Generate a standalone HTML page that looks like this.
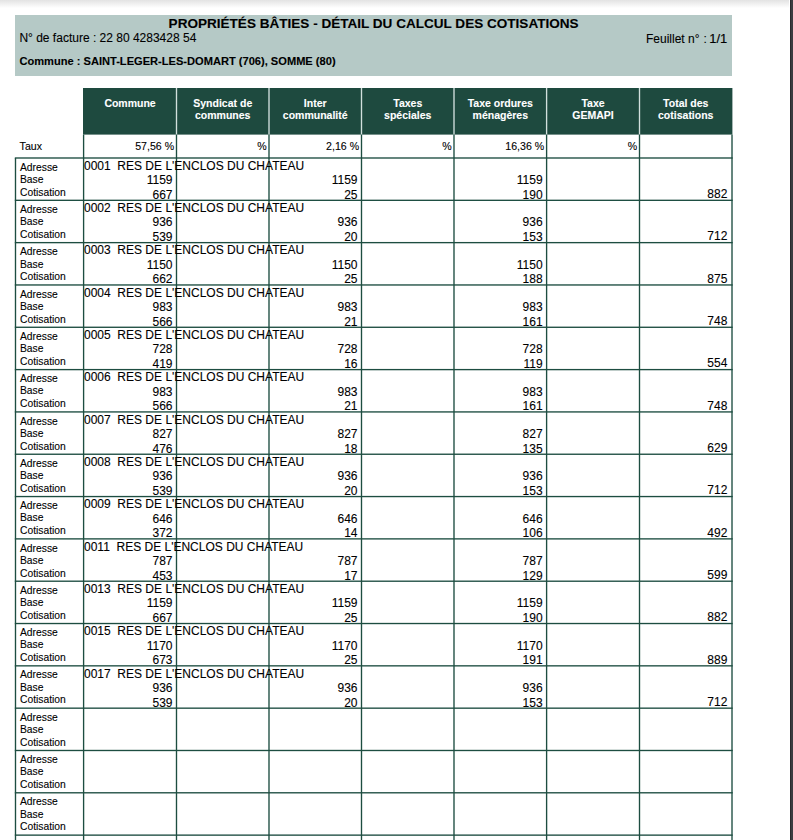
<!DOCTYPE html><html><head><meta charset="utf-8"><style>html,body{margin:0;padding:0;background:#fff;overflow:hidden}svg{display:block}text{font-family:"Liberation Sans",sans-serif;fill:#000;stroke:#000;stroke-width:0.1px}text.w{fill:#fff;stroke:#fff}</style></head><body>
<svg width="793" height="840" viewBox="0 0 793 840">
<defs><linearGradient id="tg" x1="0" y1="0" x2="0" y2="1"><stop offset="0" stop-color="#e3e3e3"/><stop offset="1" stop-color="#ffffff"/></linearGradient></defs>
<rect x="0" y="0" width="793" height="840" fill="#fff"/>
<rect x="0" y="0" width="789" height="8" fill="url(#tg)"/>
<rect x="790" y="0" width="3" height="840" fill="#3b3c40"/>
<rect x="790" y="0" width="1" height="840" fill="#2a2b2e"/>
<rect x="15" y="15" width="717" height="61" fill="#b5c9c6"/>
<text x="373.6" y="27.8" text-anchor="middle" font-weight="bold" font-size="13.55">PROPRIÉTÉS BÂTIES - DÉTAIL DU CALCUL DES COTISATIONS</text>
<text x="19.4" y="41.7" font-size="12">N° de facture : 22 80 4283428 54</text>
<text x="646.0" y="43" font-size="12">Feuillet n°</text><text x="703.4" y="43" font-size="12">:</text><text x="727.3" y="43" text-anchor="end" font-size="13" style="stroke-width:0.15px">1/1</text>
<text x="19.4" y="64.8" font-weight="bold" font-size="11.1">Commune : SAINT-LEGER-LES-DOMART (706), SOMME (80)</text>
<rect x="83.0" y="88.0" width="649.4" height="46.599999999999994" fill="#1e4a3f"/>
<rect x="175.825" y="88.0" width="1.35" height="46.60" fill="#d2e0dd"/>
<rect x="268.325" y="88.0" width="1.35" height="46.60" fill="#d2e0dd"/>
<rect x="360.825" y="88.0" width="1.35" height="46.60" fill="#d2e0dd"/>
<rect x="453.325" y="88.0" width="1.35" height="46.60" fill="#d2e0dd"/>
<rect x="545.925" y="88.0" width="1.35" height="46.60" fill="#d2e0dd"/>
<rect x="638.825" y="88.0" width="1.35" height="46.60" fill="#d2e0dd"/>
<text x="130.05" y="106.80" text-anchor="middle" font-weight="bold" font-size="10.5" class="w">Commune</text>
<text x="222.75" y="106.80" text-anchor="middle" font-weight="bold" font-size="10.5" class="w">Syndicat de</text>
<text x="222.75" y="118.70" text-anchor="middle" font-weight="bold" font-size="10.5" class="w">communes</text>
<text x="315.25" y="106.80" text-anchor="middle" font-weight="bold" font-size="10.5" class="w">Inter</text>
<text x="315.25" y="118.70" text-anchor="middle" font-weight="bold" font-size="10.5" class="w">communalité</text>
<text x="407.75" y="106.80" text-anchor="middle" font-weight="bold" font-size="10.5" class="w">Taxes</text>
<text x="407.75" y="118.70" text-anchor="middle" font-weight="bold" font-size="10.5" class="w">spéciales</text>
<text x="500.30" y="106.80" text-anchor="middle" font-weight="bold" font-size="10.5" class="w">Taxe ordures</text>
<text x="500.30" y="118.70" text-anchor="middle" font-weight="bold" font-size="10.5" class="w">ménagères</text>
<text x="593.05" y="106.80" text-anchor="middle" font-weight="bold" font-size="10.5" class="w">Taxe</text>
<text x="593.05" y="118.70" text-anchor="middle" font-weight="bold" font-size="10.5" class="w">GEMAPI</text>
<text x="685.75" y="106.80" text-anchor="middle" font-weight="bold" font-size="10.5" class="w">Total des</text>
<text x="685.75" y="118.70" text-anchor="middle" font-weight="bold" font-size="10.5" class="w">cotisations</text>
<text x="19.6" y="149.8" font-size="10.6">Taux</text>
<text x="174.10" y="149.7" text-anchor="end" font-size="10.6">57,56 %</text>
<text x="266.60" y="149.7" text-anchor="end" font-size="10.6">%</text>
<text x="359.10" y="149.7" text-anchor="end" font-size="10.6">2,16 %</text>
<text x="451.60" y="149.7" text-anchor="end" font-size="10.6">%</text>
<text x="544.20" y="149.7" text-anchor="end" font-size="10.6">16,36 %</text>
<text x="637.10" y="149.7" text-anchor="end" font-size="10.6">%</text>
<rect x="82.92" y="134.60" width="1.35" height="23.40" fill="#1d4d41"/>
<rect x="175.82" y="134.60" width="1.35" height="23.40" fill="#1d4d41"/>
<rect x="268.32" y="134.60" width="1.35" height="23.40" fill="#1d4d41"/>
<rect x="360.82" y="134.60" width="1.35" height="23.40" fill="#1d4d41"/>
<rect x="453.32" y="134.60" width="1.35" height="23.40" fill="#1d4d41"/>
<rect x="545.93" y="134.60" width="1.35" height="23.40" fill="#1d4d41"/>
<rect x="638.83" y="134.60" width="1.35" height="23.40" fill="#1d4d41"/>
<rect x="731.33" y="134.60" width="1.35" height="23.40" fill="#1d4d41"/>
<rect x="14.82" y="157.32" width="717.85" height="1.35" fill="#1d4d41"/>
<rect x="14.82" y="199.64" width="717.85" height="1.35" fill="#1d4d41"/>
<rect x="14.82" y="241.96" width="717.85" height="1.35" fill="#1d4d41"/>
<rect x="14.82" y="284.29" width="717.85" height="1.35" fill="#1d4d41"/>
<rect x="14.82" y="326.60" width="717.85" height="1.35" fill="#1d4d41"/>
<rect x="14.82" y="368.93" width="717.85" height="1.35" fill="#1d4d41"/>
<rect x="14.82" y="411.25" width="717.85" height="1.35" fill="#1d4d41"/>
<rect x="14.82" y="453.56" width="717.85" height="1.35" fill="#1d4d41"/>
<rect x="14.82" y="495.88" width="717.85" height="1.35" fill="#1d4d41"/>
<rect x="14.82" y="538.21" width="717.85" height="1.35" fill="#1d4d41"/>
<rect x="14.82" y="580.53" width="717.85" height="1.35" fill="#1d4d41"/>
<rect x="14.82" y="622.85" width="717.85" height="1.35" fill="#1d4d41"/>
<rect x="14.82" y="665.17" width="717.85" height="1.35" fill="#1d4d41"/>
<rect x="14.82" y="707.49" width="717.85" height="1.35" fill="#1d4d41"/>
<rect x="14.82" y="749.81" width="717.85" height="1.35" fill="#1d4d41"/>
<rect x="14.82" y="792.12" width="717.85" height="1.35" fill="#1d4d41"/>
<rect x="14.82" y="834.45" width="717.85" height="1.35" fill="#1d4d41"/>
<rect x="14.82" y="158.00" width="1.35" height="687.00" fill="#1d4d41"/>
<rect x="82.92" y="158.00" width="1.35" height="687.00" fill="#1d4d41"/>
<rect x="175.82" y="158.00" width="1.35" height="687.00" fill="#1d4d41"/>
<rect x="268.32" y="158.00" width="1.35" height="687.00" fill="#1d4d41"/>
<rect x="360.82" y="158.00" width="1.35" height="687.00" fill="#1d4d41"/>
<rect x="453.32" y="158.00" width="1.35" height="687.00" fill="#1d4d41"/>
<rect x="545.93" y="158.00" width="1.35" height="687.00" fill="#1d4d41"/>
<rect x="638.83" y="158.00" width="1.35" height="687.00" fill="#1d4d41"/>
<rect x="731.33" y="158.00" width="1.35" height="687.00" fill="#1d4d41"/>
<text x="20.0" y="170.75" font-size="10.3">Adresse</text>
<text x="20.0" y="182.90" font-size="10.3">Base</text>
<text x="20.0" y="195.75" font-size="10.3">Cotisation</text>
<text x="20.0" y="213.06" font-size="10.3">Adresse</text>
<text x="20.0" y="225.21" font-size="10.3">Base</text>
<text x="20.0" y="238.06" font-size="10.3">Cotisation</text>
<text x="20.0" y="255.37" font-size="10.3">Adresse</text>
<text x="20.0" y="267.52" font-size="10.3">Base</text>
<text x="20.0" y="280.37" font-size="10.3">Cotisation</text>
<text x="20.0" y="297.68" font-size="10.3">Adresse</text>
<text x="20.0" y="309.83" font-size="10.3">Base</text>
<text x="20.0" y="322.68" font-size="10.3">Cotisation</text>
<text x="20.0" y="339.99" font-size="10.3">Adresse</text>
<text x="20.0" y="352.14" font-size="10.3">Base</text>
<text x="20.0" y="364.99" font-size="10.3">Cotisation</text>
<text x="20.0" y="382.30" font-size="10.3">Adresse</text>
<text x="20.0" y="394.45" font-size="10.3">Base</text>
<text x="20.0" y="407.30" font-size="10.3">Cotisation</text>
<text x="20.0" y="424.61" font-size="10.3">Adresse</text>
<text x="20.0" y="436.76" font-size="10.3">Base</text>
<text x="20.0" y="449.61" font-size="10.3">Cotisation</text>
<text x="20.0" y="466.92" font-size="10.3">Adresse</text>
<text x="20.0" y="479.07" font-size="10.3">Base</text>
<text x="20.0" y="491.92" font-size="10.3">Cotisation</text>
<text x="20.0" y="509.23" font-size="10.3">Adresse</text>
<text x="20.0" y="521.38" font-size="10.3">Base</text>
<text x="20.0" y="534.23" font-size="10.3">Cotisation</text>
<text x="20.0" y="551.54" font-size="10.3">Adresse</text>
<text x="20.0" y="563.69" font-size="10.3">Base</text>
<text x="20.0" y="576.54" font-size="10.3">Cotisation</text>
<text x="20.0" y="593.85" font-size="10.3">Adresse</text>
<text x="20.0" y="606.00" font-size="10.3">Base</text>
<text x="20.0" y="618.85" font-size="10.3">Cotisation</text>
<text x="20.0" y="636.16" font-size="10.3">Adresse</text>
<text x="20.0" y="648.31" font-size="10.3">Base</text>
<text x="20.0" y="661.16" font-size="10.3">Cotisation</text>
<text x="20.0" y="678.47" font-size="10.3">Adresse</text>
<text x="20.0" y="690.62" font-size="10.3">Base</text>
<text x="20.0" y="703.47" font-size="10.3">Cotisation</text>
<text x="20.0" y="720.78" font-size="10.3">Adresse</text>
<text x="20.0" y="732.93" font-size="10.3">Base</text>
<text x="20.0" y="745.78" font-size="10.3">Cotisation</text>
<text x="20.0" y="763.09" font-size="10.3">Adresse</text>
<text x="20.0" y="775.24" font-size="10.3">Base</text>
<text x="20.0" y="788.09" font-size="10.3">Cotisation</text>
<text x="20.0" y="805.40" font-size="10.3">Adresse</text>
<text x="20.0" y="817.55" font-size="10.3">Base</text>
<text x="20.0" y="830.40" font-size="10.3">Cotisation</text>
<text x="84.0" y="169.70" font-size="12" xml:space="preserve">0001  RES DE L'ENCLOS DU CHATEAU</text>
<text x="172.50" y="183.90" text-anchor="end" font-size="12">1159</text>
<text x="172.50" y="198.60" text-anchor="end" font-size="12">667</text>
<text x="357.50" y="183.90" text-anchor="end" font-size="12">1159</text>
<text x="357.50" y="198.60" text-anchor="end" font-size="12">25</text>
<text x="542.60" y="183.90" text-anchor="end" font-size="12">1159</text>
<text x="542.60" y="198.60" text-anchor="end" font-size="12">190</text>
<text x="727.40" y="197.90" text-anchor="end" font-size="12">882</text>
<text x="84.0" y="212.04" font-size="12" xml:space="preserve">0002  RES DE L'ENCLOS DU CHATEAU</text>
<text x="172.50" y="226.24" text-anchor="end" font-size="12">936</text>
<text x="172.50" y="240.94" text-anchor="end" font-size="12">539</text>
<text x="357.50" y="226.24" text-anchor="end" font-size="12">936</text>
<text x="357.50" y="240.94" text-anchor="end" font-size="12">20</text>
<text x="542.60" y="226.24" text-anchor="end" font-size="12">936</text>
<text x="542.60" y="240.94" text-anchor="end" font-size="12">153</text>
<text x="727.40" y="240.24" text-anchor="end" font-size="12">712</text>
<text x="84.0" y="254.38" font-size="12" xml:space="preserve">0003  RES DE L'ENCLOS DU CHATEAU</text>
<text x="172.50" y="268.58" text-anchor="end" font-size="12">1150</text>
<text x="172.50" y="283.28" text-anchor="end" font-size="12">662</text>
<text x="357.50" y="268.58" text-anchor="end" font-size="12">1150</text>
<text x="357.50" y="283.28" text-anchor="end" font-size="12">25</text>
<text x="542.60" y="268.58" text-anchor="end" font-size="12">1150</text>
<text x="542.60" y="283.28" text-anchor="end" font-size="12">188</text>
<text x="727.40" y="282.58" text-anchor="end" font-size="12">875</text>
<text x="84.0" y="296.72" font-size="12" xml:space="preserve">0004  RES DE L'ENCLOS DU CHATEAU</text>
<text x="172.50" y="310.92" text-anchor="end" font-size="12">983</text>
<text x="172.50" y="325.62" text-anchor="end" font-size="12">566</text>
<text x="357.50" y="310.92" text-anchor="end" font-size="12">983</text>
<text x="357.50" y="325.62" text-anchor="end" font-size="12">21</text>
<text x="542.60" y="310.92" text-anchor="end" font-size="12">983</text>
<text x="542.60" y="325.62" text-anchor="end" font-size="12">161</text>
<text x="727.40" y="324.92" text-anchor="end" font-size="12">748</text>
<text x="84.0" y="339.06" font-size="12" xml:space="preserve">0005  RES DE L'ENCLOS DU CHATEAU</text>
<text x="172.50" y="353.26" text-anchor="end" font-size="12">728</text>
<text x="172.50" y="367.96" text-anchor="end" font-size="12">419</text>
<text x="357.50" y="353.26" text-anchor="end" font-size="12">728</text>
<text x="357.50" y="367.96" text-anchor="end" font-size="12">16</text>
<text x="542.60" y="353.26" text-anchor="end" font-size="12">728</text>
<text x="542.60" y="367.96" text-anchor="end" font-size="12">119</text>
<text x="727.40" y="367.26" text-anchor="end" font-size="12">554</text>
<text x="84.0" y="381.40" font-size="12" xml:space="preserve">0006  RES DE L'ENCLOS DU CHATEAU</text>
<text x="172.50" y="395.60" text-anchor="end" font-size="12">983</text>
<text x="172.50" y="410.30" text-anchor="end" font-size="12">566</text>
<text x="357.50" y="395.60" text-anchor="end" font-size="12">983</text>
<text x="357.50" y="410.30" text-anchor="end" font-size="12">21</text>
<text x="542.60" y="395.60" text-anchor="end" font-size="12">983</text>
<text x="542.60" y="410.30" text-anchor="end" font-size="12">161</text>
<text x="727.40" y="409.60" text-anchor="end" font-size="12">748</text>
<text x="84.0" y="423.74" font-size="12" xml:space="preserve">0007  RES DE L'ENCLOS DU CHATEAU</text>
<text x="172.50" y="437.94" text-anchor="end" font-size="12">827</text>
<text x="172.50" y="452.64" text-anchor="end" font-size="12">476</text>
<text x="357.50" y="437.94" text-anchor="end" font-size="12">827</text>
<text x="357.50" y="452.64" text-anchor="end" font-size="12">18</text>
<text x="542.60" y="437.94" text-anchor="end" font-size="12">827</text>
<text x="542.60" y="452.64" text-anchor="end" font-size="12">135</text>
<text x="727.40" y="451.94" text-anchor="end" font-size="12">629</text>
<text x="84.0" y="466.08" font-size="12" xml:space="preserve">0008  RES DE L'ENCLOS DU CHATEAU</text>
<text x="172.50" y="480.28" text-anchor="end" font-size="12">936</text>
<text x="172.50" y="494.98" text-anchor="end" font-size="12">539</text>
<text x="357.50" y="480.28" text-anchor="end" font-size="12">936</text>
<text x="357.50" y="494.98" text-anchor="end" font-size="12">20</text>
<text x="542.60" y="480.28" text-anchor="end" font-size="12">936</text>
<text x="542.60" y="494.98" text-anchor="end" font-size="12">153</text>
<text x="727.40" y="494.28" text-anchor="end" font-size="12">712</text>
<text x="84.0" y="508.42" font-size="12" xml:space="preserve">0009  RES DE L'ENCLOS DU CHATEAU</text>
<text x="172.50" y="522.62" text-anchor="end" font-size="12">646</text>
<text x="172.50" y="537.32" text-anchor="end" font-size="12">372</text>
<text x="357.50" y="522.62" text-anchor="end" font-size="12">646</text>
<text x="357.50" y="537.32" text-anchor="end" font-size="12">14</text>
<text x="542.60" y="522.62" text-anchor="end" font-size="12">646</text>
<text x="542.60" y="537.32" text-anchor="end" font-size="12">106</text>
<text x="727.40" y="536.62" text-anchor="end" font-size="12">492</text>
<text x="84.0" y="550.76" font-size="12" xml:space="preserve">0011  RES DE L'ENCLOS DU CHATEAU</text>
<text x="172.50" y="564.96" text-anchor="end" font-size="12">787</text>
<text x="172.50" y="579.66" text-anchor="end" font-size="12">453</text>
<text x="357.50" y="564.96" text-anchor="end" font-size="12">787</text>
<text x="357.50" y="579.66" text-anchor="end" font-size="12">17</text>
<text x="542.60" y="564.96" text-anchor="end" font-size="12">787</text>
<text x="542.60" y="579.66" text-anchor="end" font-size="12">129</text>
<text x="727.40" y="578.96" text-anchor="end" font-size="12">599</text>
<text x="84.0" y="593.10" font-size="12" xml:space="preserve">0013  RES DE L'ENCLOS DU CHATEAU</text>
<text x="172.50" y="607.30" text-anchor="end" font-size="12">1159</text>
<text x="172.50" y="622.00" text-anchor="end" font-size="12">667</text>
<text x="357.50" y="607.30" text-anchor="end" font-size="12">1159</text>
<text x="357.50" y="622.00" text-anchor="end" font-size="12">25</text>
<text x="542.60" y="607.30" text-anchor="end" font-size="12">1159</text>
<text x="542.60" y="622.00" text-anchor="end" font-size="12">190</text>
<text x="727.40" y="621.30" text-anchor="end" font-size="12">882</text>
<text x="84.0" y="635.44" font-size="12" xml:space="preserve">0015  RES DE L'ENCLOS DU CHATEAU</text>
<text x="172.50" y="649.64" text-anchor="end" font-size="12">1170</text>
<text x="172.50" y="664.34" text-anchor="end" font-size="12">673</text>
<text x="357.50" y="649.64" text-anchor="end" font-size="12">1170</text>
<text x="357.50" y="664.34" text-anchor="end" font-size="12">25</text>
<text x="542.60" y="649.64" text-anchor="end" font-size="12">1170</text>
<text x="542.60" y="664.34" text-anchor="end" font-size="12">191</text>
<text x="727.40" y="663.64" text-anchor="end" font-size="12">889</text>
<text x="84.0" y="677.78" font-size="12" xml:space="preserve">0017  RES DE L'ENCLOS DU CHATEAU</text>
<text x="172.50" y="691.98" text-anchor="end" font-size="12">936</text>
<text x="172.50" y="706.68" text-anchor="end" font-size="12">539</text>
<text x="357.50" y="691.98" text-anchor="end" font-size="12">936</text>
<text x="357.50" y="706.68" text-anchor="end" font-size="12">20</text>
<text x="542.60" y="691.98" text-anchor="end" font-size="12">936</text>
<text x="542.60" y="706.68" text-anchor="end" font-size="12">153</text>
<text x="727.40" y="705.98" text-anchor="end" font-size="12">712</text>
</svg></body></html>
